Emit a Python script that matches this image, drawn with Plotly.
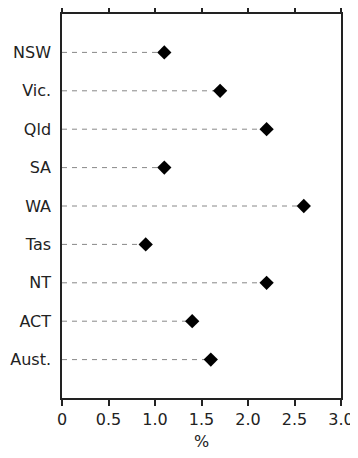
import plotly.graph_objects as go

states = ["NSW", "Vic.", "Qld", "SA", "WA", "Tas", "NT", "ACT", "Aust."]
values = [1.1, 1.7, 2.2, 1.1, 2.6, 0.9, 2.2, 1.4, 1.6]
x_ticks = [0, 0.5, 1.0, 1.5, 2.0, 2.5, 3.0]
x_tick_labels = ["0", "0.5", "1.0", "1.5", "2.0", "2.5", "3.0"]

idx = list(range(len(states)))

lx, ly = [], []
for i, v in zip(idx, values):
    lx += [0, v, None]
    ly += [i, i, None]

fig = go.Figure()
fig.add_trace(go.Scatter(x=lx, y=ly, mode="lines",
                         line=dict(color="#888888", width=1, dash="5px,5px"),
                         hoverinfo="skip", showlegend=False))
fig.add_trace(go.Scatter(x=values, y=idx, mode="markers",
                         marker=dict(symbol="diamond", size=11, color="black"),
                         showlegend=False))

fig.update_layout(
    width=350, height=450,
    margin=dict(l=54, r=17, t=6, b=60),
    paper_bgcolor="white", plot_bgcolor="white",
    font=dict(family="DejaVu Sans, sans-serif", size=16, color="#222222"),
)
fig.update_xaxes(range=[0, 3], tickvals=x_ticks, ticktext=x_tick_labels,
                 ticks="outside", ticklen=6, tickcolor="#222222", tickwidth=1.5,
                 showline=True, linecolor="#222222", linewidth=1.5, mirror="allticks",
                 showgrid=False, zeroline=False, automargin=False,
                 title=dict(text="%", standoff=8, font=dict(size=16)))
fig.update_yaxes(range=[9, -1], tickvals=idx, ticktext=states,
                 ticks="", showline=True, linecolor="#222222", linewidth=1.5, mirror=True,
                 showgrid=False, zeroline=False, automargin=False, ticklabelstandoff=6)

fig.write_html("out.html")
